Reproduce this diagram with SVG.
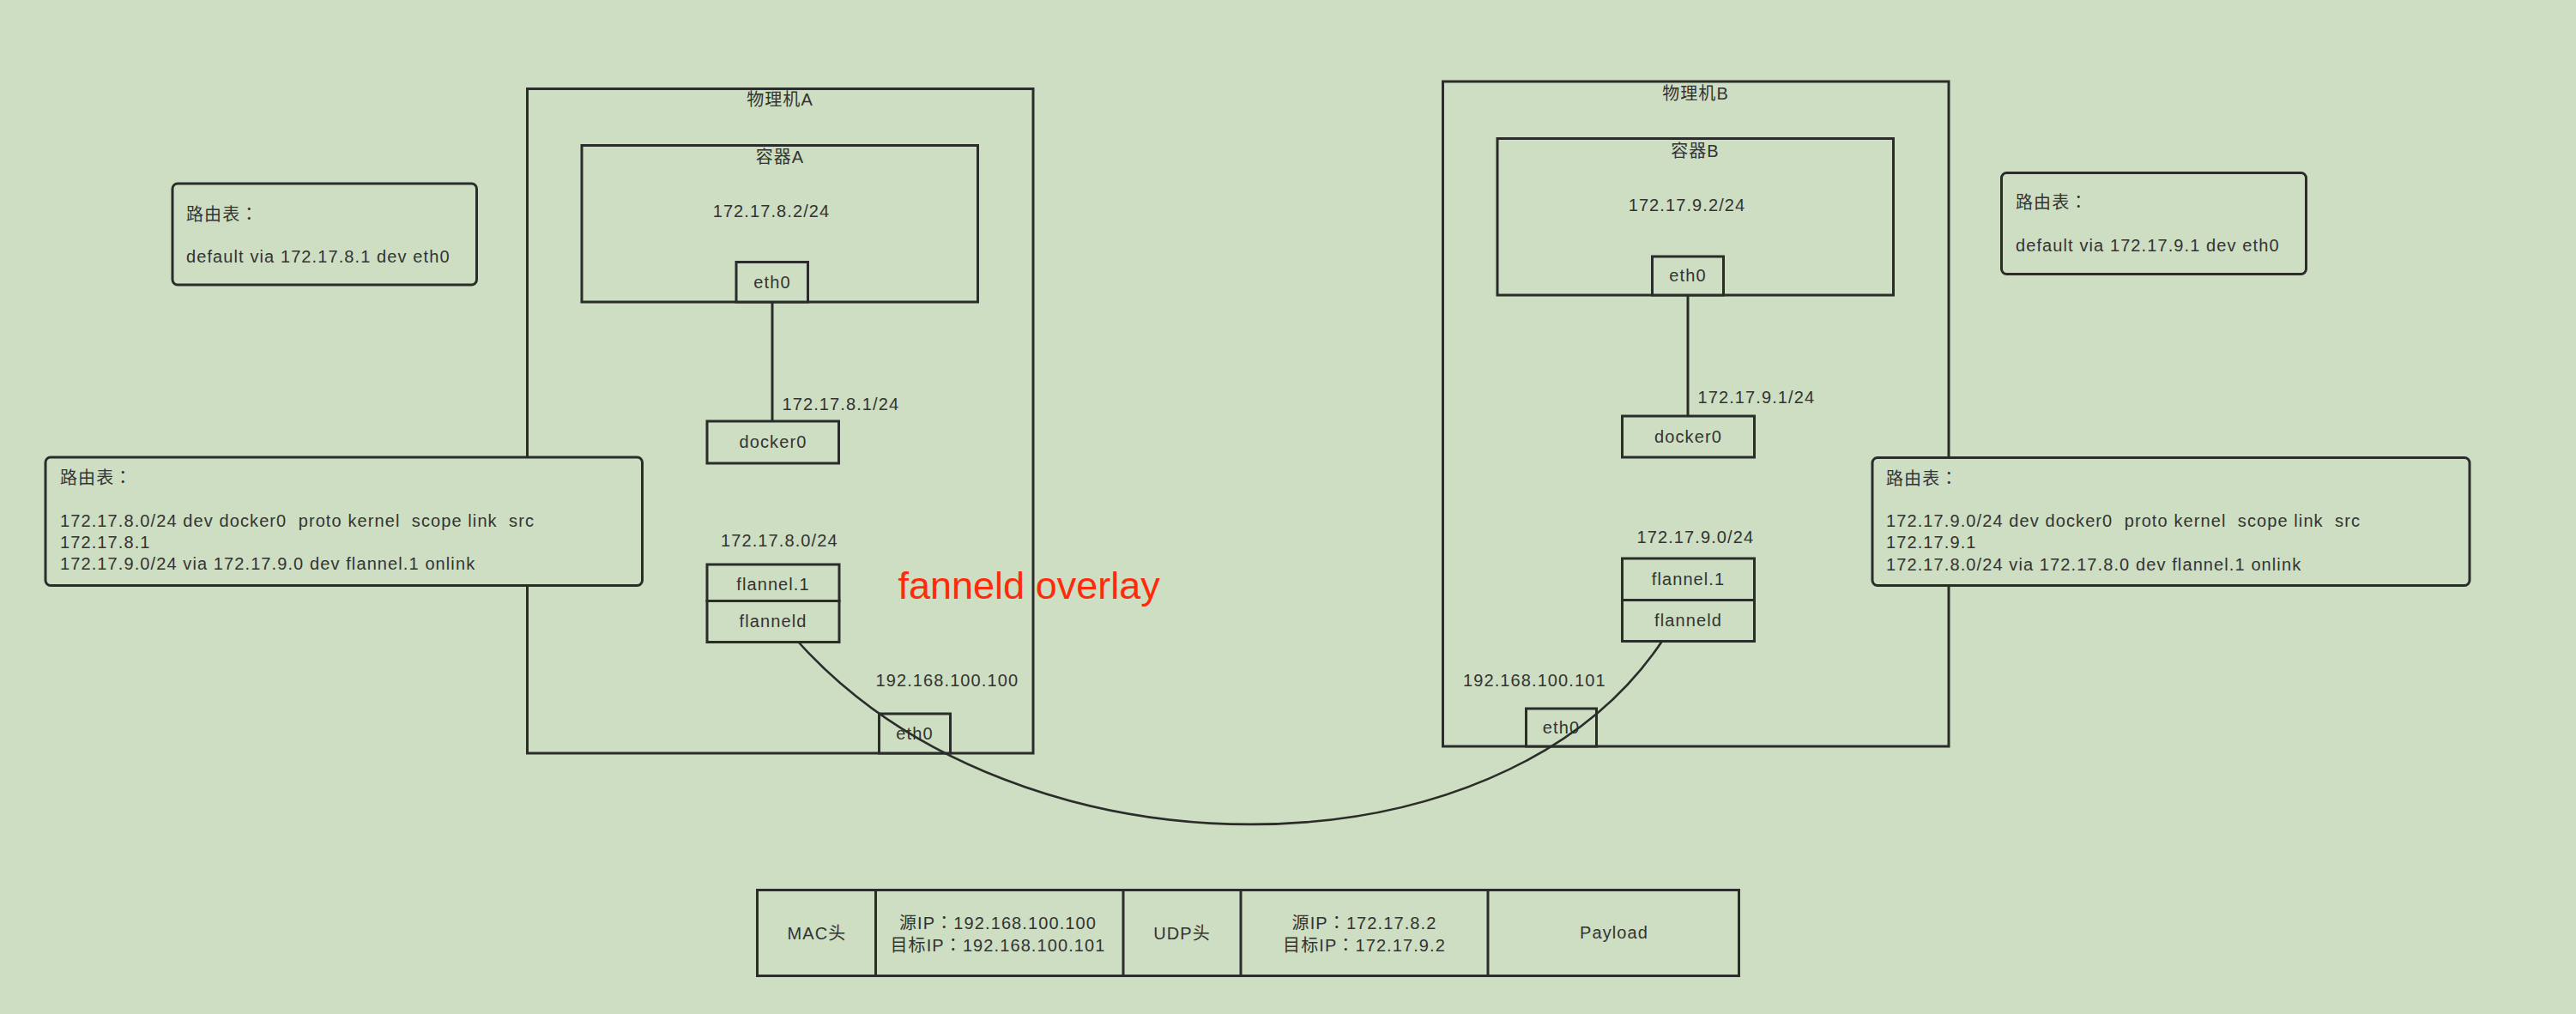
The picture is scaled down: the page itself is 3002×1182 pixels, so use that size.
<svg xmlns="http://www.w3.org/2000/svg" width="3002" height="1182" viewBox="0 0 3002 1182">
<style>
.bx{fill:#cddec2;stroke:#2b2d2a;stroke-width:3}
.rt{fill:#cddec2;stroke:#2b2d2a;stroke-width:3}
.t{font-family:"Liberation Sans","Noto Sans CJK SC",sans-serif;font-size:20px;fill:#333;letter-spacing:1.1px;white-space:pre}
.m{text-anchor:middle}
.cl{font-family:"Noto Sans CJK TC","Noto Sans CJK SC",sans-serif}
.ln{fill:none;stroke:#2b2d2a;stroke-width:3}
.cv{fill:none;stroke:#2b2d2a;stroke-width:2.6}
.red{font-family:"Liberation Sans","Noto Sans CJK SC",sans-serif;font-size:45px;fill:#ff2a0a}
</style>
<rect x="0" y="0" width="3002" height="1182" fill="#cddec2"/>

<g id="hostA">
<rect class="bx" x="614.5" y="103.5" width="589.5" height="774.5"/>
<text class="t m" x="909" y="123">物理机A</text>
</g>
<g id="containerA">
<rect class="bx" x="678" y="169.5" width="461.5" height="182.5"/>
<text class="t m" x="909" y="190">容器A</text>
<text class="t m" x="899" y="253">172.17.8.2/24</text>
</g>
<g id="eth0-containerA">
<rect class="bx" x="858" y="305.5" width="83.5" height="46.5"/>
<text class="t m" x="900" y="336">eth0</text>
</g>
<g id="docker0-A">
<rect class="bx" x="824" y="491" width="153.5" height="49"/>
<text class="t m" x="901" y="522">docker0</text>
<text class="t" x="911.5" y="478">172.17.8.1/24</text>
</g>
<g id="flannel-A">
<text class="t" x="840" y="637">172.17.8.0/24</text>
<rect class="bx" x="824" y="658" width="154" height="42.5"/>
<text class="t m" x="901" y="688">flannel.1</text>
<rect class="bx" x="824" y="700.5" width="154" height="48"/>
<text class="t m" x="901" y="731">flanneld</text>
</g>
<g id="eth0-hostA">
<text class="t" x="1020.5" y="800">192.168.100.100</text>
<rect class="bx" x="1024.5" y="832" width="83" height="46"/>
<text class="t m" x="1066" y="862">eth0</text>
</g>

<g id="hostB">
<rect class="bx" x="1681.5" y="95" width="589.5" height="775"/>
<text class="t m" x="1976" y="116">物理机B</text>
</g>
<g id="containerB">
<rect class="bx" x="1745" y="161.5" width="461.5" height="182.5"/>
<text class="t m" x="1975.5" y="183">容器B</text>
<text class="t m" x="1966" y="246">172.17.9.2/24</text>
</g>
<g id="eth0-containerB">
<rect class="bx" x="1925.5" y="299" width="83" height="45"/>
<text class="t m" x="1967" y="328">eth0</text>
</g>
<g id="docker0-B">
<rect class="bx" x="1890.5" y="485" width="154" height="48"/>
<text class="t m" x="1967.5" y="516">docker0</text>
<text class="t" x="1978.5" y="470">172.17.9.1/24</text>
</g>
<g id="flannel-B">
<text class="t" x="1907.5" y="633">172.17.9.0/24</text>
<rect class="bx" x="1890.5" y="651" width="154" height="48.5"/>
<text class="t m" x="1967.5" y="682">flannel.1</text>
<rect class="bx" x="1890.5" y="699.5" width="154" height="48"/>
<text class="t m" x="1967.5" y="730">flanneld</text>
</g>
<g id="eth0-hostB">
<text class="t" x="1705" y="800">192.168.100.101</text>
<rect class="bx" x="1778.5" y="826" width="82" height="44"/>
<text class="t m" x="1819.5" y="855">eth0</text>
</g>

<g id="route-containerA">
<rect class="rt" x="201" y="214" width="354.5" height="118" rx="6"/>
<text class="t" x="217" y="257">路由表<tspan class="cl">：</tspan></text>
<text class="t" x="217" y="306">default via 172.17.8.1 dev eth0</text>
</g>
<g id="route-hostA">
<rect class="rt" x="53" y="533" width="695.5" height="149.5" rx="6"/>
<text class="t" x="70" y="564">路由表<tspan class="cl">：</tspan></text>
<text class="t" x="70" y="614" xml:space="preserve">172.17.8.0/24 dev docker0  proto kernel  scope link  src</text>
<text class="t" x="70" y="639">172.17.8.1</text>
<text class="t" x="70" y="664">172.17.9.0/24 via 172.17.9.0 dev flannel.1 onlink</text>
</g>
<g id="route-containerB">
<rect class="rt" x="2332.5" y="201.5" width="355" height="118" rx="6"/>
<text class="t" x="2349" y="243">路由表<tspan class="cl">：</tspan></text>
<text class="t" x="2349" y="293">default via 172.17.9.1 dev eth0</text>
</g>
<g id="route-hostB">
<rect class="rt" x="2182" y="533.5" width="696" height="149" rx="6"/>
<text class="t" x="2198" y="565">路由表<tspan class="cl">：</tspan></text>
<text class="t" x="2198" y="614" xml:space="preserve">172.17.9.0/24 dev docker0  proto kernel  scope link  src</text>
<text class="t" x="2198" y="639">172.17.9.1</text>
<text class="t" x="2198" y="665">172.17.8.0/24 via 172.17.8.0 dev flannel.1 onlink</text>
</g>

<g id="packet">
<rect class="bx" x="882.5" y="1037.5" width="1144" height="100"/>
<line class="ln" x1="1020.5" y1="1037.5" x2="1020.5" y2="1137.5"/>
<line class="ln" x1="1309" y1="1037.5" x2="1309" y2="1137.5"/>
<line class="ln" x1="1446" y1="1037.5" x2="1446" y2="1137.5"/>
<line class="ln" x1="1734" y1="1037.5" x2="1734" y2="1137.5"/>
<text class="t m" x="952" y="1095">MAC头</text>
<text class="t m" x="1163" y="1083">源IP<tspan class="cl">：</tspan>192.168.100.100</text>
<text class="t m" x="1163" y="1109">目标IP<tspan class="cl">：</tspan>192.168.100.101</text>
<text class="t m" x="1377.5" y="1095">UDP头</text>
<text class="t m" x="1590" y="1083">源IP<tspan class="cl">：</tspan>172.17.8.2</text>
<text class="t m" x="1590" y="1109">目标IP<tspan class="cl">：</tspan>172.17.9.2</text>
<text class="t m" x="1881" y="1094">Payload</text>
</g>

<g id="connectors">
<line class="ln" x1="900" y1="352" x2="900" y2="491"/>
<line class="ln" x1="1967" y1="344" x2="1967" y2="485"/>
<path class="cv" d="M931 749 C1186 1031.7 1746.5 1031.7 1936.5 748"/>
<text class="red" x="1046.5" y="698">fanneld overlay</text>
</g>
</svg>
